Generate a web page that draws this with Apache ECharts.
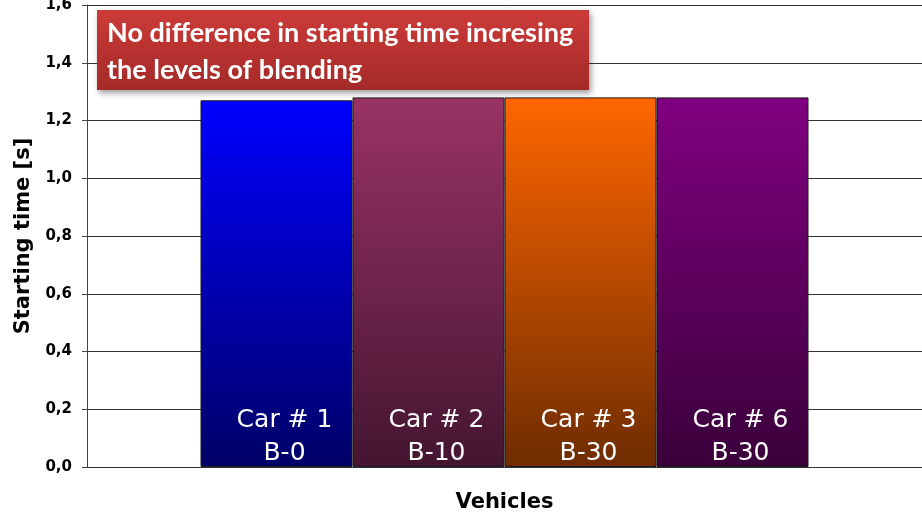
<!DOCTYPE html>
<html>
<head>
<meta charset="utf-8">
<script src="https://cdn.jsdelivr.net/npm/echarts@6/dist/echarts.min.js"></script>
<style>html,body{margin:0;padding:0;background:#fff}#c{width:922px;height:526px}</style>
</head>
<body>
<div id="c"></div>
<script>
var cars = ['Car # 1', 'Car # 2', 'Car # 3', 'Car # 6'];
var blends = ['B-0', 'B-10', 'B-30', 'B-30'];
var startTimes = [1.27, 1.28, 1.28, 1.28];
var yTicks = [0, 0.2, 0.4, 0.6, 0.8, 1.0, 1.2, 1.4, 1.6];
var topColors = ['#0000ff', '#993366', '#ff6600', '#800080'];
var bottomColors = ['#000066', '#441530', '#6e2c00', '#3a003a'];
var titleText = 'No difference in starting time incresing\nthe levels of blending';

var chart = echarts.init(document.getElementById('c'));
var series = cars.map(function (c, i) {
  return {
    type: 'bar',
    name: c,
    data: [startTimes[i]],
    barWidth: 152,
    barGap: '0%',
    itemStyle: {
      borderColor: '#1a1a1a',
      borderWidth: 1,
      color: new echarts.graphic.LinearGradient(0, 0, 0, 1, [
        { offset: 0, color: topColors[i] },
        { offset: 1, color: bottomColors[i] }
      ])
    },
    label: {
      show: true,
      position: 'insideBottom',
      distance: 0,
      offset: [8, 3],
      formatter: c + '\n' + blends[i],
      color: '#ffffff',
      fontFamily: 'DejaVu Sans',
      fontSize: 25,
      lineHeight: 33
    }
  };
});

chart.setOption({
  animation: false,
  grid: { left: 87, right: 0, top: 5, bottom: 59, outerBoundsMode: 'none', containLabel: false },
  xAxis: {
    type: 'category',
    data: [''],
    name: 'Vehicles',
    nameLocation: 'middle',
    nameGap: 25,
    nameTextStyle: { fontFamily: 'DejaVu Sans', fontWeight: 'bold', fontSize: 21, color: '#000' },
    axisLine: { lineStyle: { color: '#333', width: 1 } },
    axisTick: { show: false },
    axisLabel: { show: false }
  },
  yAxis: {
    type: 'value',
    min: yTicks[0],
    max: yTicks[yTicks.length - 1],
    interval: 0.2,
    name: 'Starting time [s]',
    nameLocation: 'middle',
    nameGap: 52,
    nameTextStyle: { fontFamily: 'DejaVu Sans', fontWeight: 'bold', fontSize: 21, color: '#000' },
    axisLine: { show: true, lineStyle: { color: '#444', width: 1 } },
    axisTick: { show: true, length: 5, lineStyle: { color: '#444' } },
    axisLabel: {
      margin: 15,
      fontFamily: 'DejaVu Sans',
      fontWeight: 'bold',
      fontSize: 15,
      color: '#000',
      formatter: function (v) { return v.toFixed(1).replace('.', ','); }
    },
    splitLine: { lineStyle: { color: '#333', width: 1 } }
  },
  series: series,
  graphic: [
    {
      type: 'rect',
      left: 97, top: 10,
      shape: { width: 492, height: 80 },
      style: {
        fill: new echarts.graphic.LinearGradient(0, 0, 0, 1, [
          { offset: 0, color: '#cc3b39' },
          { offset: 1, color: '#a32a28' }
        ]),
        shadowBlur: 6, shadowOffsetX: 2, shadowOffsetY: 3, shadowColor: 'rgba(0,0,0,0.4)'
      },
      z: 100
    },
    {
      type: 'text',
      left: 107, top: 15,
      style: {
        text: titleText,
        fill: '#ffffff',
        font: 'bold 27px Lato',
        lineHeight: 37
      },
      z: 101
    }
  ]
});
</script>
</body>
</html>
